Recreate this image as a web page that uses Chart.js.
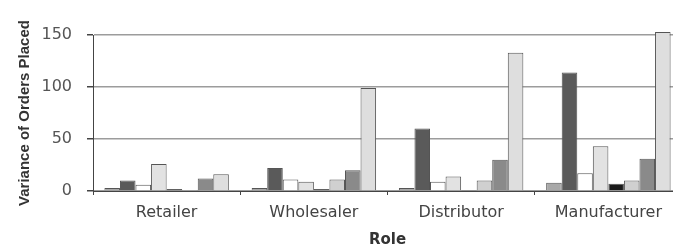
<!DOCTYPE html>
<html>
<head>
<meta charset="utf-8">
<title>Variance of Orders Placed by Role</title>
<script src="https://cdn.jsdelivr.net/npm/chart.js@4/dist/chart.umd.min.js"></script>
<style>
  html, body { margin: 0; padding: 0; background: #fff; overflow: hidden; }
  #wrap { position: absolute; left: 0; top: 0; width: 684px; height: 250px; }
</style>
</head>
<body>
<div id="wrap"><canvas id="varianceChart" width="684" height="250"></canvas></div>
<script>
// Categories (supply chain roles)
const roles = ['Retailer', 'Wholesaler', 'Distributor', 'Manufacturer'];

// One array per bar series, values per role
const series1 = [3, 3, 3, 8];
const series2 = [10, 22, 60, 114];
const series3 = [6, 11, 9, 17];
const series4 = [26, 9, 14, 43];
const series5 = [2, 2, 1, 7];
const series6 = [1, 11, 10, 10];
const series7 = [12, 20, 30, 31];
const series8 = [16, 99, 133, 153];

const yTicks = [0, 50, 100, 150];

const fills = ['#a8a8a8', '#5a5a5a', '#ffffff', '#e2e2e2', '#1a1a1a', '#d0d0d0', '#8a8a8a', '#dedede'];
const allSeries = [series1, series2, series3, series4, series5, series6, series7, series8];

document.addEventListener('DOMContentLoaded', function() {
  const ctx = document.getElementById('varianceChart');

  const datasets = allSeries.map(function(values, i) {
    return {
      label: 'Series ' + (i + 1),
      data: values,
      backgroundColor: fills[i],
      borderColor: '#555',
      borderWidth: 1,
      categoryPercentage: 0.845,
      barPercentage: 1,
      clip: false
    };
  });

  new Chart(ctx, {
    type: 'bar',
    data: { labels: roles, datasets: datasets },
    options: {
      responsive: false,
      animation: false,
      layout: { padding: { left: 0, right: 2, top: 35, bottom: 0 } },
      plugins: {
        legend: { display: false },
        tooltip: { enabled: false }
      },
      scales: {
        x: {
          afterFit: function(scale) { scale.height = 59; },
          grid: {
            display: true,
            drawOnChartArea: false,
            offset: true,
            tickLength: 4,
            tickColor: '#444'
          },
          border: { display: true, color: '#444', width: 1 },
          ticks: {
            padding: 8,
            color: '#444',
            font: { family: 'DejaVu Sans', size: 16 }
          },
          title: {
            display: true,
            text: 'Role',
            color: '#333',
            padding: { top: 0, bottom: 1 },
            font: { family: 'DejaVu Sans', size: 15, weight: 'bold' }
          }
        },
        y: {
          min: 0,
          max: 150,
          afterFit: function(scale) { scale.width = 93; },
          afterBuildTicks: function(scale) {
            scale.ticks = yTicks.map(v => ({ value: v }));
          },
          grid: {
            color: '#9c9c9c',
            lineWidth: 1.5,
            tickLength: 6,
            tickColor: '#444'
          },
          border: { display: true, color: '#444', width: 1 },
          ticks: {
            padding: 15,
            color: '#555',
            font: { family: 'DejaVu Sans', size: 16 }
          },
          title: {
            display: true,
            text: 'Variance of Orders Placed',
            color: '#333',
            padding: { top: 16, bottom: 0 },
            font: { family: 'Liberation Sans', size: 15, weight: 'bold' }
          }
        }
      }
    }
  });
});
</script>
</body>
</html>
